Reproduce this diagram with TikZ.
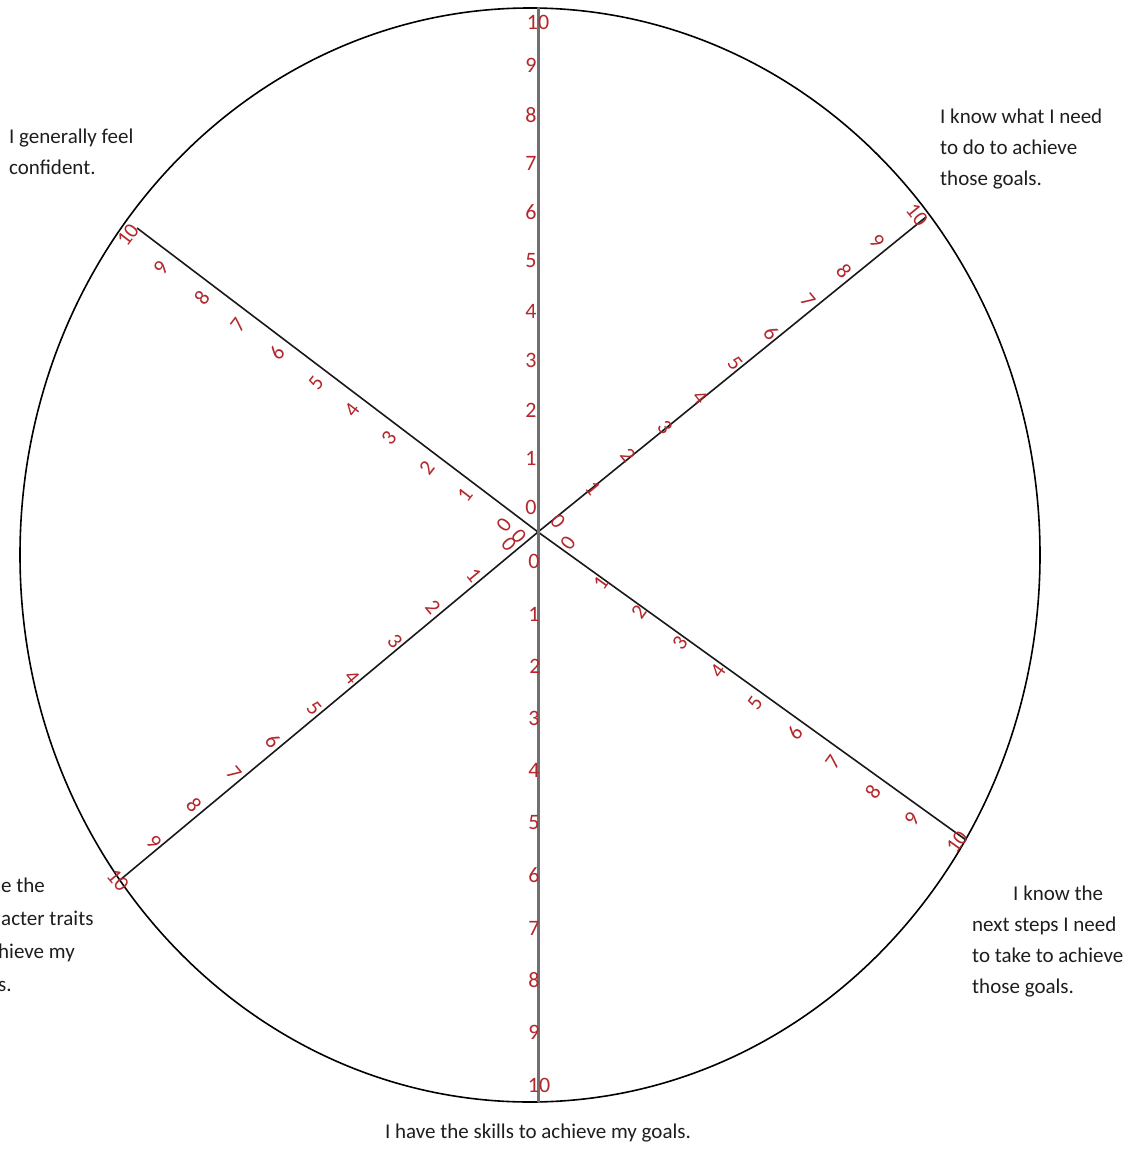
\documentclass[tikz,border=0pt]{standalone}
\usepackage{fontspec}
\setmainfont{Carlito}
\definecolor{numred}{RGB}{180,40,45}
\definecolor{spokegray}{RGB}{112,112,112}
\definecolor{txt}{RGB}{30,30,30}
\begin{document}
\begin{tikzpicture}[x=1pt,y=-1pt,
  num/.style={text=numred,font=\fontsize{22}{22}\selectfont,inner sep=0pt},
  dnum/.style={text=numred,font=\fontsize{21.5}{21.5}\selectfont,inner sep=0pt},
  lbl/.style={text=txt,font=\fontsize{21}{31}\selectfont,inner sep=0pt,anchor=base west},
  rim/.style={draw=black,line width=1.6pt},
  spoke/.style={draw=black!90,line width=1.6pt},
  axis/.style={draw=spokegray,line width=3pt}]
\useasboundingbox (0,0) rectangle (1131,1151);
\fill[white] (0,0) rectangle (1131,1151);
% geometry
\coordinate (E) at (530,555);
\coordinate (C) at (538,532);
\coordinate (top) at (538,8);
\coordinate (bot) at (538,1102);
\coordinate (ulend) at (137,228);
\coordinate (urend) at (926,217);
\coordinate (lrend) at (966,840);
\coordinate (llend) at (120,880);
\draw[rim] (E) ellipse [x radius=510pt, y radius=547pt];
\draw[spoke] (C) -- (ulend);
\draw[spoke] (C) -- (urend);
\draw[spoke] (C) -- (lrend);
\draw[spoke] (C) -- (llend);
\draw[axis] (top) -- (bot);
% vertical scale, upper half
\foreach \n/\px/\py in {10/538/22, 9/531/65, 8/531/115, 7/531/163, 6/531/212, 5/531/261, 4/531/311, 3/531/360, 2/531/410, 1/531/458, 0/531/507}
  \node[num] (up\n) at (\px,\py) {\n};
% vertical scale, lower half
\foreach \n/\px/\py in {0/534/561, 1/534/614, 2/535/666, 3/534/718, 4/534/770, 5/534/823, 6/534/875, 7/534/928, 8/534/980, 9/534/1032, 10/539/1085}
  \node[num] (dn\n) at (\px,\py) {\n};
% upper-left spoke
\foreach \n/\px/\py in {0/504/525, 1/465/495, 2/427/468, 3/389/438, 4/352/410, 5/316/383, 6/277/353, 7/238/325, 8/202/298, 9/161/268, 10/128/235}
  \node[dnum,rotate=52.6] (ul\n) at (\px,\py) {\n};
% upper-right spoke
\foreach \n/\px/\py in {0/558/521, 1/593/488, 2/628/455, 3/665/427, 4/700/397, 5/735/363, 6/771/333, 7/808/300, 8/844/271, 9/877/241, 10/917/215}
  \node[dnum,rotate=-50.7] (ur\n) at (\px,\py) {\n};
% lower-right spoke
\foreach \n/\px/\py in {0/568/543, 1/601/583, 2/639/612, 3/680/643, 4/718/671, 5/755/703, 6/795/733, 7/833/762, 8/873/792, 9/912/819, 10/957/842}
  \node[dnum,rotate=54.3] (lr\n) at (\px,\py) {\n};
% lower-left spoke
\foreach \n/\px/\py in {0/509/544, 1/474/575, 2/433/607, 3/395/641, 4/352/677, 5/314/708, 6/273/741, 7/234/773, 8/194/805, 9/154/842, 10/118/880}
  \node[dnum,rotate=-50.2] (ll\n) at (\px,\py) {\n};
\node[dnum,rotate=-50.2] (llx) at (519,536) {0};
% statements
\node[lbl] (tl1) at (9,143) {I generally feel};
\node[lbl] (tl2) at (9,174) {confident.};
\node[lbl] (tr1) at (940,123) {I know what I need};
\node[lbl] (tr2) at (940,154) {to do to achieve};
\node[lbl] (tr3) at (940,185) {those goals.};
\node[lbl] (br1) at (1013,900) {I know the};
\node[lbl] (br2) at (972,931) {next steps I need};
\node[lbl] (br3) at (972,962) {to take to achieve};
\node[lbl] (br4) at (972,993) {those goals.};
\node[lbl] (bl1) at (1,892) {e the};
\node[lbl] (bl2) at (1,925) {acter traits};
\node[lbl] (bl3) at (-2,958) {hieve my};
\node[lbl] (bl4) at (-2,991) {s.};
\node[lbl,anchor=base] (bot1) at (538,1138) {I have the skills to achieve my goals.};
\end{tikzpicture}
\end{document}
